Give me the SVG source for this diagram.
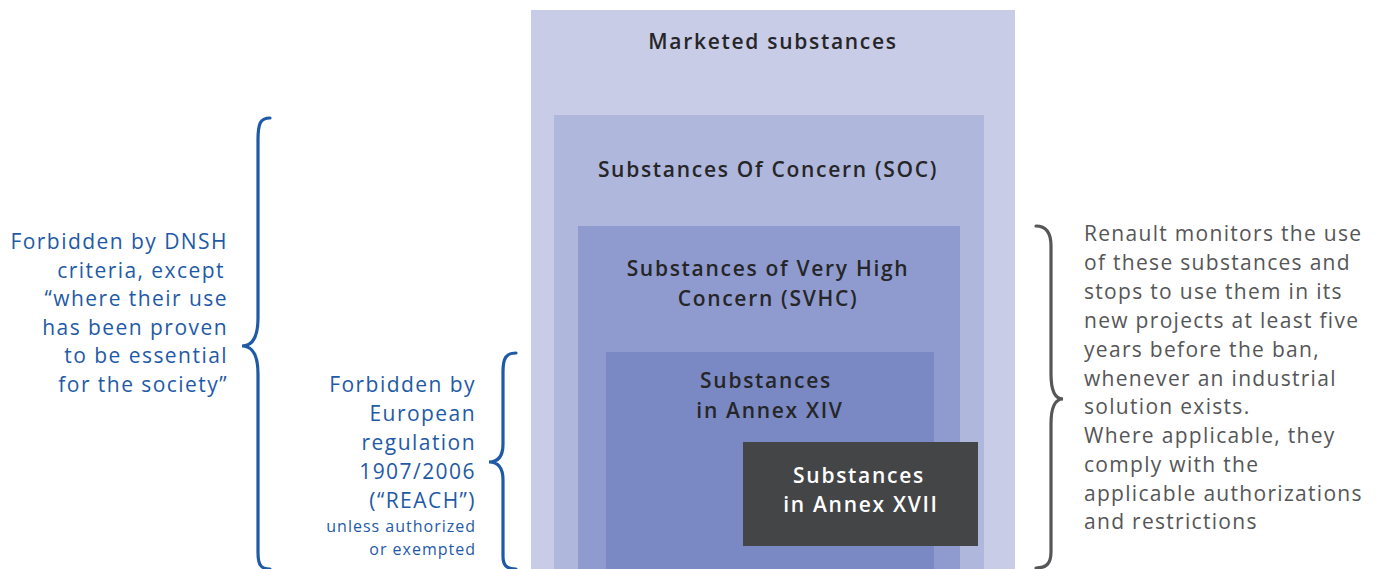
<svg xmlns="http://www.w3.org/2000/svg" width="1382" height="569" viewBox="0 0 1382 569">
<style>
.lbl{font-family:"Open Sans","Noto Sans",sans-serif;font-size:21px;font-weight:600;fill:#262628;text-anchor:middle;letter-spacing:1.7px}
.blue{font-family:"Open Sans","Noto Sans",sans-serif;font-size:21px;fill:#1f5aa6;text-anchor:end;letter-spacing:1.45px}
.small{font-size:16px;letter-spacing:1px}
.grey{font-family:"Open Sans","Noto Sans",sans-serif;font-size:21px;fill:#555658;letter-spacing:1.3px}
.brace{fill:none;stroke-width:3.2;stroke-linecap:round}
</style>
<rect width="1382" height="569" fill="#ffffff"/>
<g id="marketed"><rect x="531" y="10" width="484" height="559" fill="#c8cce6"/><text class="lbl" x="773" y="49">Marketed substances</text></g>
<g id="soc"><rect x="554" y="115" width="430" height="454" fill="#b0b7dc"/><text class="lbl" x="768" y="177">Substances Of Concern (SOC)</text></g>
<g id="svhc"><rect x="578" y="226" width="382" height="343" fill="#8f9bcf"/><text class="lbl" x="768" y="276">Substances of Very High</text><text class="lbl" x="768" y="306">Concern (SVHC)</text></g>
<g id="annex14"><rect x="606" y="352" width="328" height="217" fill="#7a89c4"/><text class="lbl" x="766" y="388">Substances</text><text class="lbl" x="770" y="418">in Annex XIV</text></g>
<g id="annex17"><rect x="743" y="442" width="235" height="104" fill="#444546"/><text class="lbl" x="859" y="483" style="fill:#ffffff">Substances</text><text class="lbl" x="861" y="512" style="fill:#ffffff">in Annex XVII</text></g>
<g id="connectors">
<path class="brace" stroke="#1f5aa6" d="M270,118 C260,118 258,124 258,140 L258,318 C258,338 252,346 242,346 C252,346 258,354 258,374 L258,552 C258,564 260,569 270,569"/>
<path class="brace" stroke="#1f5aa6" d="M516,353 C506,353 503,358 503,372 L503,444 C503,456 498,462 489,462 C498,462 503,468 503,480 L503,556 C503,565 506,569 516,569"/>
<path class="brace" stroke="#555658" d="M1036,226 C1046,226 1051,232 1051,246 L1051,374 C1051,392 1055,399 1063,399 C1055,399 1051,406 1051,424 L1051,552 C1051,564 1046,568 1036,568"/>
</g>
<g id="dnsh">
<text class="blue" x="228" y="249">Forbidden by DNSH</text>
<text class="blue" x="225" y="278">criteria,  except </text>
<text class="blue" x="228" y="306">“where their use</text>
<text class="blue" x="228" y="335">has been proven</text>
<text class="blue" x="228" y="363">to be essential</text>
<text class="blue" x="228" y="392">for the society”</text>
</g>
<g id="reach">
<text class="blue" x="476" y="392">Forbidden by</text>
<text class="blue" x="476" y="421">European</text>
<text class="blue" x="476" y="450">regulation</text>
<text class="blue" x="476" y="479">1907/2006</text>
<text class="blue" x="476" y="508">(“REACH”)</text>
<text class="blue small" x="476" y="532">unless authorized</text>
<text class="blue small" x="476" y="555">or exempted</text>
</g>
<g id="renault">
<text class="grey" x="1084" y="241">Renault monitors the use</text>
<text class="grey" x="1084" y="270">of these substances and</text>
<text class="grey" x="1084" y="299">stops to use them in its</text>
<text class="grey" x="1084" y="328">new projects at least five</text>
<text class="grey" x="1084" y="357">years before the ban,</text>
<text class="grey" x="1084" y="386">whenever an industrial</text>
<text class="grey" x="1084" y="414">solution exists.</text>
<text class="grey" x="1084" y="443">Where applicable, they</text>
<text class="grey" x="1084" y="472">comply with the</text>
<text class="grey" x="1084" y="501">applicable authorizations</text>
<text class="grey" x="1084" y="529">and restrictions</text>
</g>
</svg>
